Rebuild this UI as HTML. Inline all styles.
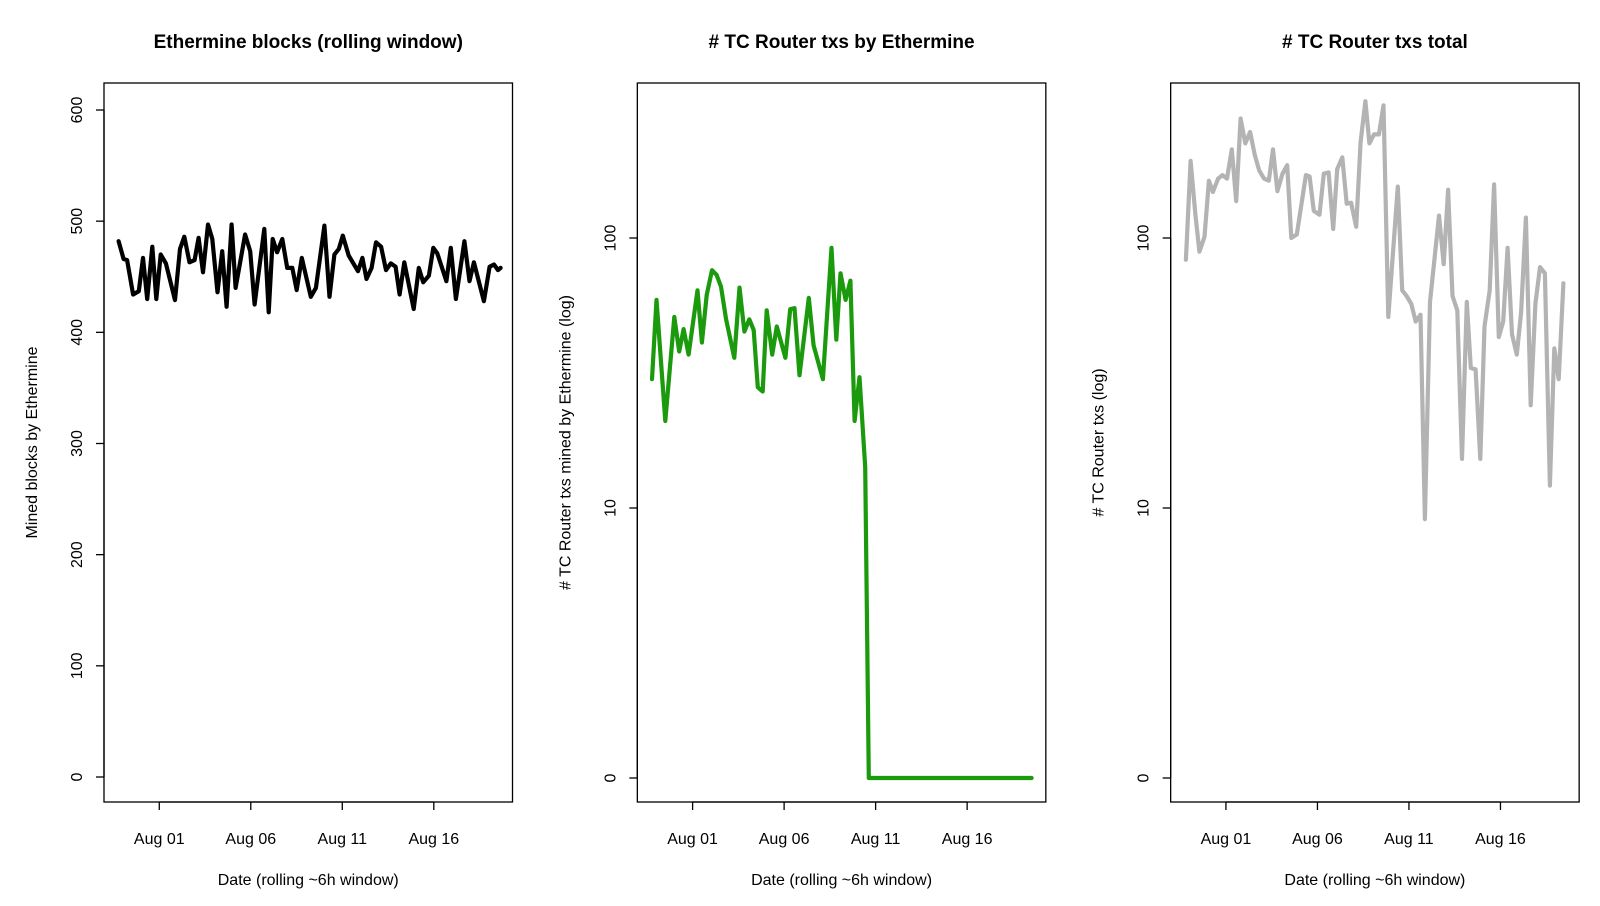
<!DOCTYPE html>
<html><head><meta charset="utf-8"><style>
html,body{margin:0;padding:0;background:#fff;}
svg{display:block;font-family:"Liberation Sans",Arial,sans-serif;}
</style></head><body>
<svg id="fig" width="1600" height="906" viewBox="0 0 1600 906" xmlns="http://www.w3.org/2000/svg"></svg>
<script>
// ---- data (t = days relative to Aug 01 00:00) ----
const xTickLabels = ["Aug 01","Aug 06","Aug 11","Aug 16"];
const xTickDays = [0,5,10,15];
const titles = ["Ethermine blocks (rolling window)","# TC Router txs by Ethermine","# TC Router txs total"];
const yTitles = ["Mined blocks by Ethermine","# TC Router txs mined by Ethermine (log)","# TC Router txs (log)"];
const linTickVals = [0,100,200,300,400,500,600];
const logTickVals = [0,10,100];

const blocksT = [-2.22,-1.95,-1.76,-1.43,-1.12,-0.89,-0.66,-0.38,-0.16,0.08,0.36,0.86,1.13,1.37,1.65,1.93,2.15,2.39,2.66,2.90,3.18,3.44,3.68,3.95,4.17,4.69,4.97,5.21,5.74,5.98,6.20,6.44,6.72,6.99,7.27,7.51,7.79,8.28,8.56,9.02,9.30,9.57,9.81,10.03,10.35,10.86,11.10,11.32,11.60,11.84,12.12,12.39,12.65,12.91,13.13,13.39,13.90,14.18,14.42,14.73,14.97,15.19,15.69,15.93,16.21,16.67,16.95,17.19,17.74,18.05,18.29,18.51,18.65];
const blocksV = [482,466,465,434,437,467,430,477,430,470,462,429,475,486,463,465,485,454,497,484,436,473,423,497,440,488,473,425,493,418,484,472,484,458,458,438,467,432,440,496,432,470,475,487,469,455,467,448,458,481,477,456,462,459,434,463,421,458,445,451,476,471,446,476,430,482,446,463,428,459,461,456,458];

const minedT = [-2.22,-1.97,-1.49,-1.00,-0.73,-0.49,-0.22,0.27,0.51,0.77,1.06,1.31,1.55,1.83,2.28,2.56,2.83,3.10,3.34,3.56,3.83,4.05,4.35,4.60,5.07,5.33,5.57,5.84,6.35,6.61,7.12,7.59,7.85,8.08,8.36,8.62,8.85,9.12,9.43,9.63,18.52];
const minedV = [30,59,21,51,38,46,37,64,41,61.5,76,73,66,50,36,65.5,45,50,45.6,28,27,54,37,47,36,54.5,55,31,60,40,30,92,42,74,59,69.5,21,30.5,14.2,0,0];

const totalT = [-2.19,-1.93,-1.67,-1.45,-1.17,-0.93,-0.71,-0.43,-0.19,0.06,0.32,0.56,0.80,1.06,1.32,1.58,1.82,2.08,2.34,2.57,2.81,3.09,3.35,3.57,3.87,4.37,4.57,4.80,5.11,5.35,5.61,5.86,6.08,6.36,6.60,6.84,7.12,7.36,7.62,7.84,8.09,8.36,8.61,8.87,9.39,9.63,9.87,10.13,10.37,10.63,10.87,11.15,11.64,11.90,12.14,12.38,12.64,12.90,13.16,13.38,13.64,13.90,14.13,14.41,14.65,14.91,15.15,15.39,15.63,15.89,16.13,16.39,16.65,16.91,17.16,17.43,17.70,17.94,18.18,18.44];
const totalV = [83,193,122,89,101,163,148,166,171,166,213,137,277,224,247,203,178,166,163,213,149,173,186,100,103,171,169,126,122,173,175,108,180,199,134,135,110,227,321,224,242,242,310,51,155,64,61,57,49,52,9.1,58,121,80,151,61,54,15.2,58,33,32.6,15.2,47,64,158,43,49,92,44,37,53,119,24,57,78,74,12.1,39,30,68];

// ---- layout ----
const NS="http://www.w3.org/2000/svg";
const svg=document.getElementById('fig');
const PW=533.33, BL=104, BR=512.5, BT=83, BB=802;
const X0=-3.02, X1=19.30;
function mk(tag,attrs,parent){const e=document.createElementNS(NS,tag);for(const k in attrs)e.setAttribute(k,attrs[k]);(parent||svg).appendChild(e);return e;}
function xScale(k,t){return BL+k*PW+(t-X0)/(X1-X0)*(BR-BL);}
function yLin(v){return 777-(v/600)*(777-110);}
function yLog(v){return 778-270*Math.log10(Math.max(v,1));}

function panel(k,title,ytitle,T,V,yfun,ticks,color){
  const g=mk('g',{});
  
  
  const off=k*PW;
  const cx=BL+off+(BR-BL)/2;
  const tt=mk('text',{x:cx,y:48,'text-anchor':'middle','font-size':'19','font-weight':'bold',fill:'#000'},g);
  tt.textContent=title;
  
  
  const box=mk('rect',{x:BL+off,y:BT,width:BR-BL,height:BB-BT,fill:'none',stroke:'#000','stroke-width':'1.3'},g);
  
  
  // y ticks
  const ya=mk('g',{},g);
  
  
  const yt0=yfun(ticks[0]), yt1=yfun(ticks[ticks.length-1]);
  mk('line',{x1:BL+off,x2:BL+off,y1:yt0,y2:yt1,stroke:'#000','stroke-width':'1.3'},ya);
  ticks.forEach(v=>{
    const y=yfun(v);
    mk('line',{x1:BL+off-8,x2:BL+off,y1:y,y2:y,stroke:'#000','stroke-width':'1.3'},ya);
    const lb=mk('text',{x:0,y:0,transform:`translate(${BL+off-22},${y}) rotate(-90)`,'text-anchor':'middle','font-size':'16',fill:'#000'},ya);
    lb.textContent=String(v);
    
    
  });
  const yl=mk('text',{x:0,y:0,transform:`translate(${37+off},${(BT+BB)/2}) rotate(-90)`,'text-anchor':'middle','font-size':'16',fill:'#000'},g);
  yl.textContent=ytitle;
  
  
  // x ticks
  const xa=mk('g',{},g);
  
  
  const xa0=xScale(k,xTickDays[0]), xa1=xScale(k,xTickDays[xTickDays.length-1]);
  mk('line',{x1:xa0,x2:xa1,y1:BB,y2:BB,stroke:'#000','stroke-width':'1.3'},xa);
  xTickDays.forEach((d,i)=>{
    const x=xScale(k,d);
    mk('line',{x1:x,x2:x,y1:BB,y2:BB+8,stroke:'#000','stroke-width':'1.3'},xa);
    const lb=mk('text',{x:x,y:844,'text-anchor':'middle','font-size':'16',fill:'#000'},xa);
    lb.textContent=xTickLabels[i];
    
    
  });
  const xl=mk('text',{x:cx,y:885,'text-anchor':'middle','font-size':'16',fill:'#000'},g);
  xl.textContent='Date (rolling ~6h window)';
  
  
  // series
  const pts=T.map((t,i)=>xScale(k,t).toFixed(1)+','+yfun(V[i]).toFixed(1)).join(' ');
  const pl=mk('polyline',{points:pts,fill:'none',stroke:color,'stroke-width':'4.2','stroke-linejoin':'round','stroke-linecap':'round'},g);
  
  
}
panel(0,titles[0],yTitles[0],blocksT,blocksV,yLin,linTickVals,'#000');
panel(1,titles[1],yTitles[1],minedT,minedV,yLog,logTickVals,'#1a9a0c');
panel(2,titles[2],yTitles[2],totalT,totalV,yLog,logTickVals,'#b3b3b3');
</script>
</body></html>
